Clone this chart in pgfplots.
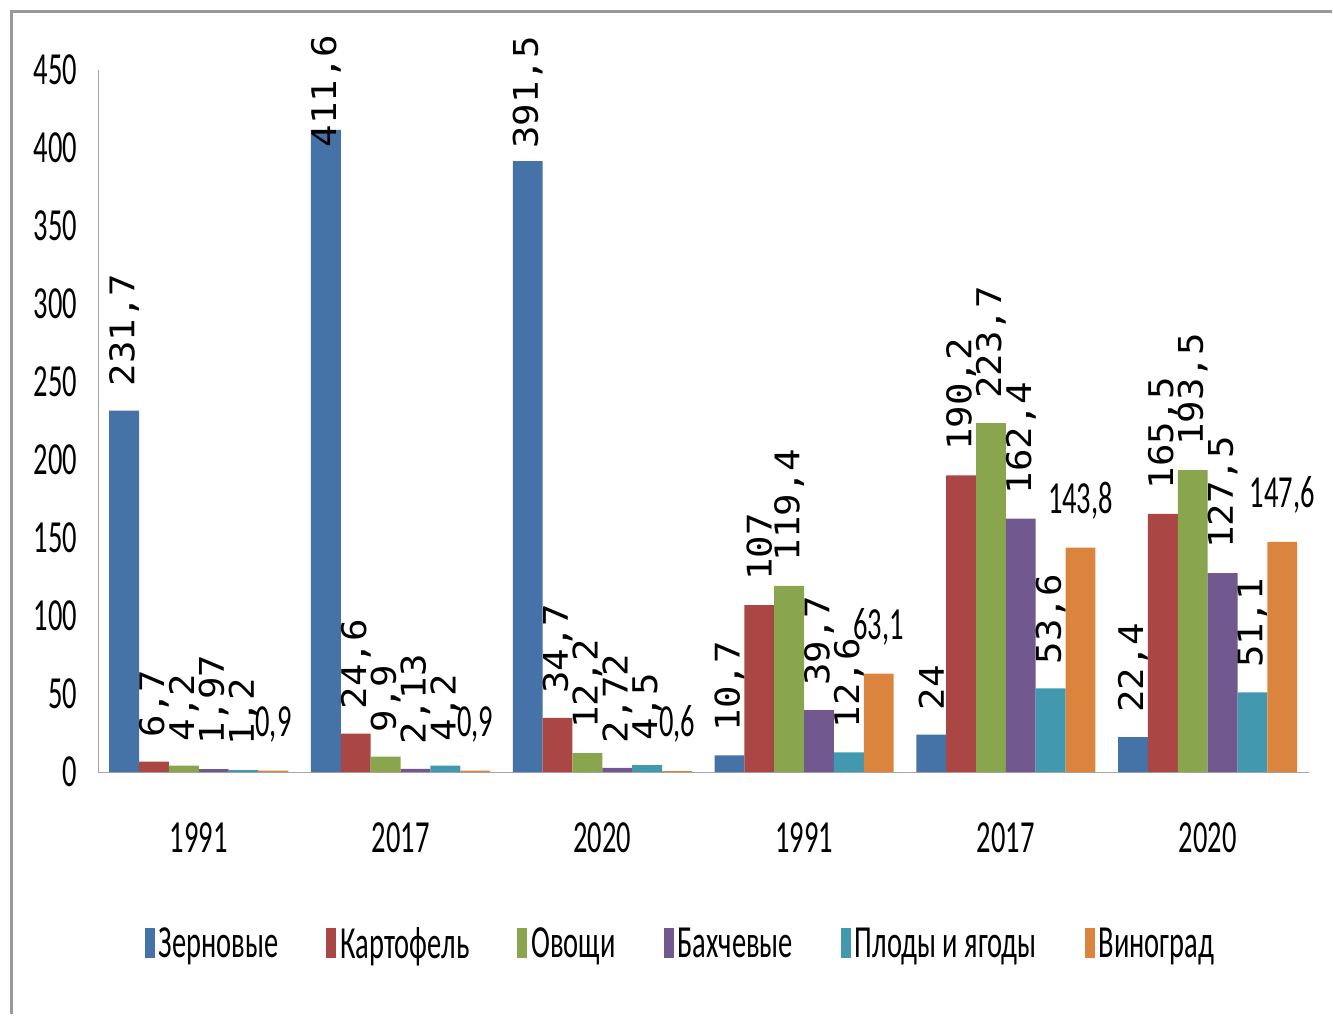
\documentclass[border=0pt]{standalone}
\usepackage{pgfplots}
\pgfplotsset{compat=1.18}
\usepackage{fontspec}
\setmainfont{Carlito}[FakeStretch=0.62]
\newfontfamily\rotfont{DejaVu Sans Mono}[FakeStretch=1.1]

\definecolor{cZer}{HTML}{4572A7}
\definecolor{cKar}{HTML}{AA4643}
\definecolor{cOvo}{HTML}{89A54E}
\definecolor{cBah}{HTML}{71588F}
\definecolor{cPlo}{HTML}{4198AF}
\definecolor{cVin}{HTML}{DB843D}

\pgfplotsset{
    rotlab/.style={every node near coord/.append style={anchor=west, inner sep=1pt, rotate=90, xshift=11pt, font=\rotfont\fontsize{17}{19}\selectfont}},
    flatlab/.style={every node near coord/.append style={anchor=south, inner sep=1pt, yshift=13pt, font=\fontsize{23}{26}\selectfont}},
}

\begin{document}
\begin{tikzpicture}
\begin{axis}[
    scale only axis,
    width=606pt, height=351.5pt,
    ybar=0pt, bar width=0.148,
    xmin=-0.5, xmax=5.5,
    ymin=0, ymax=450,
    ytick={0,50,...,450},
    xtick={0,...,5},
    xticklabels={1991,2017,2020,1991,2017,2020},
    axis lines*=left,
    axis line style={gray!70, -},
    tick style={draw=none},
    major tick length=0pt,
    ticklabel style={font=\fontsize{23}{26}\selectfont},
    yticklabel style={xshift=-7pt},
    xticklabel style={yshift=-22pt},
    /pgf/number format/assume math mode=true,
    point meta=explicit symbolic,
    nodes near coords,
    every node near coord/.append style={text=black},
    clip=false,
    legend columns=6,
    legend style={draw=none, at={(rel axis cs:0.482,-0.245)}, anchor=center,
        font=\fontsize{23}{26}\selectfont,
        /tikz/every even column/.append style={column sep=22pt}},
    legend image code/.code={\fill[#1] (0pt,-7pt) rectangle (5pt,8pt);},
]
% labels of the two tallest bars are pulled down to stay inside the chart
\addplot[fill=cZer, draw=none, rotlab] coordinates {(0,231.7)[231,7] (1,411.6)[\hspace*{-21pt}411,6] (2,391.5)[\hspace*{-6pt}391,5] (3,10.7)[10,7] (4,24)[24] (5,22.4)[22,4]};
\addplot[fill=cKar, draw=none, rotlab] coordinates {(0,6.7)[6,7] (1,24.6)[24,6] (2,34.7)[34,7] (3,107)[107] (4,190.2)[190,2] (5,165.5)[165,5]};
\addplot[fill=cOvo, draw=none, rotlab] coordinates {(0,4.2)[4,2] (1,9.9)[9,9] (2,12.2)[12,2] (3,119.4)[119,4] (4,223.7)[223,7] (5,193.5)[193,5]};
\addplot[fill=cBah, draw=none, rotlab] coordinates {(0,1.97)[1,97] (1,2.13)[2,13] (2,2.72)[2,72] (3,39.7)[39,7] (4,162.4)[162,4] (5,127.5)[127,5]};
\addplot[fill=cPlo, draw=none, rotlab] coordinates {(0,1.2)[1,2] (1,4.2)[4,2] (2,4.5)[4,5] (3,12.6)[12,6] (4,53.6)[53,6] (5,51.1)[51,1]};
\addplot[fill=cVin, draw=none, flatlab] coordinates {(0,0.9)[0,9] (1,0.9)[0,9] (2,0.6)[0,6] (3,63.1)[63,1] (4,143.8)[143,8] (5,147.6)[147,6]};
\legend{Зерновые, Картофель, Овощи, Бахчевые, Плоды и ягоды, Виноград}
\draw[gray!80, line width=1.5pt] (rel axis cs:-0.071,-0.3442) -- (rel axis cs:-0.071,1.0825) -- (rel axis cs:1.019,1.0825);
\path (rel axis cs:-0.0809,-0.3442) (rel axis cs:1.019,1.0996);
\end{axis}
\end{tikzpicture}
\end{document}
